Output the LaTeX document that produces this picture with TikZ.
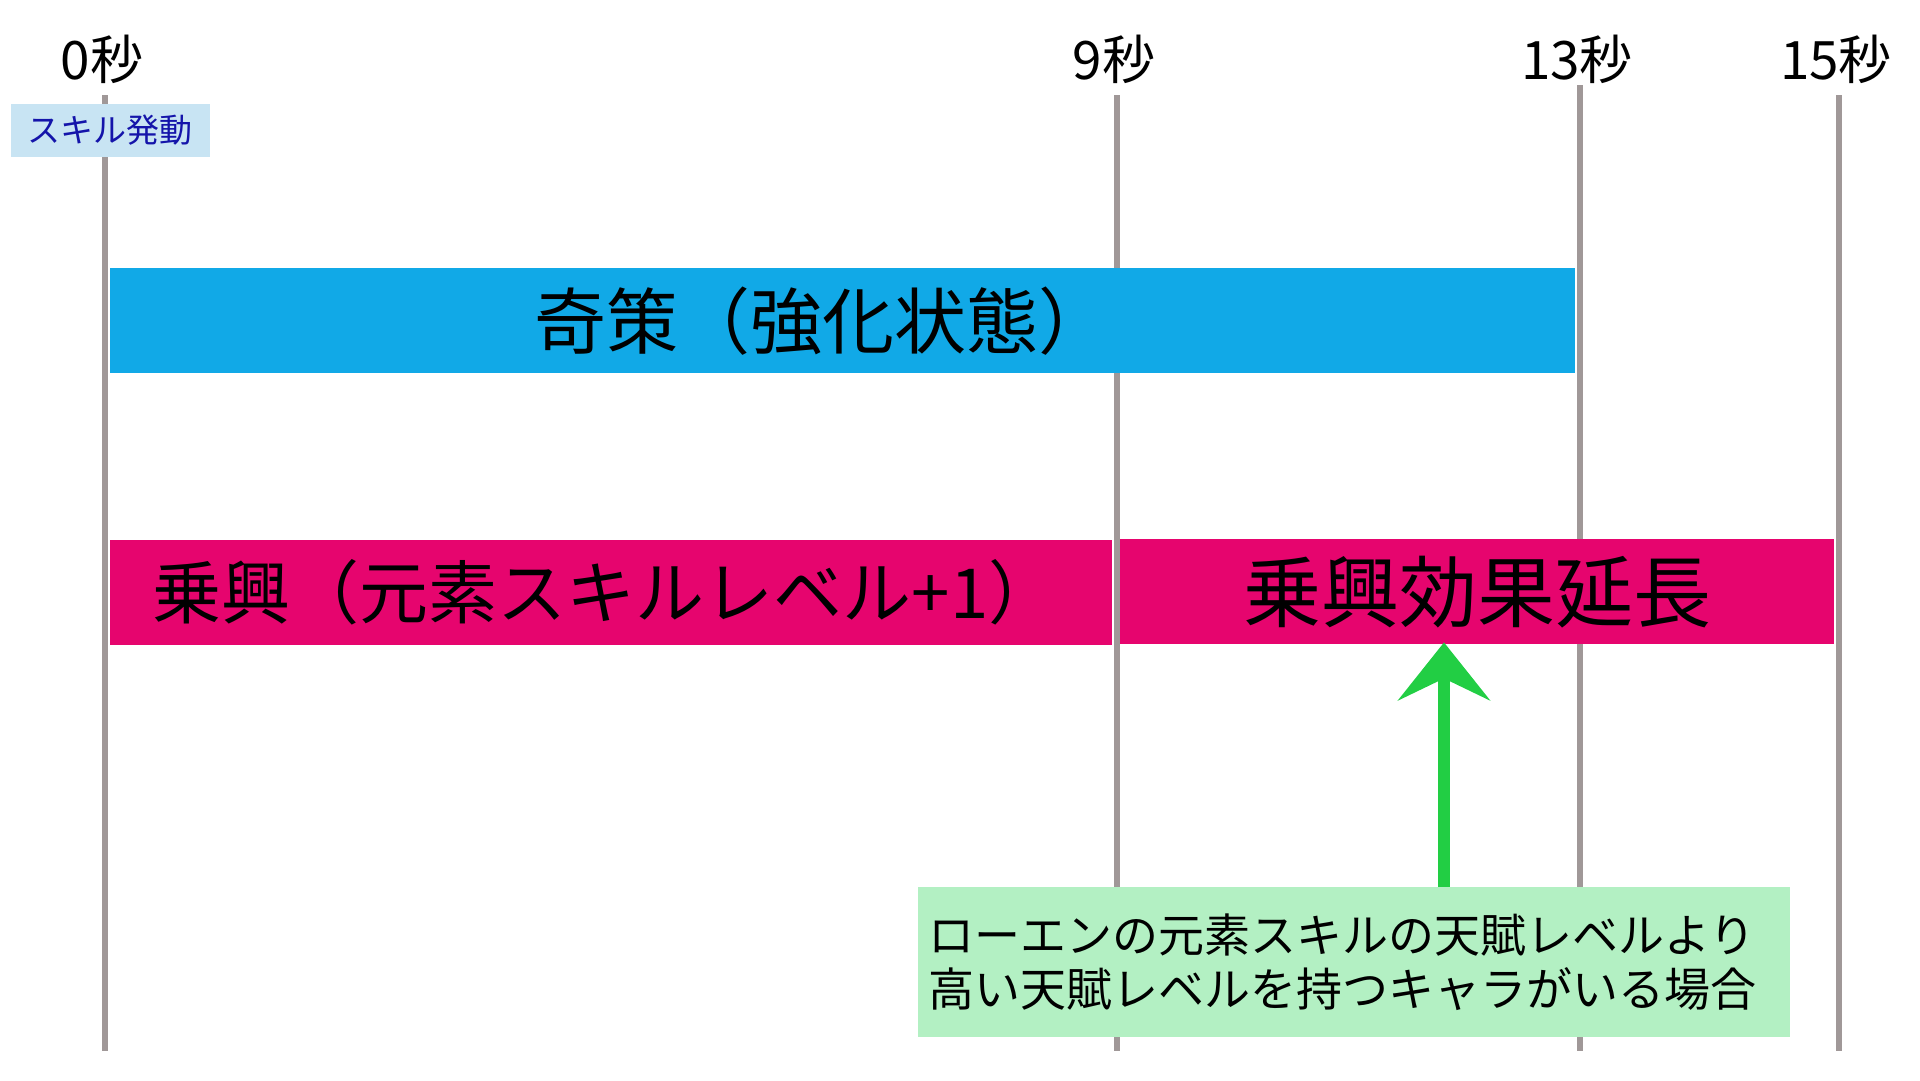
\documentclass[tikz,border=0pt]{standalone}
\usepackage{fontspec}
\setmainfont{Noto Sans CJK JP}
\usepackage{tikz}
\usetikzlibrary{positioning, calc, arrows.meta}
\definecolor{skyblue}{RGB}{17,169,231}
\definecolor{hotpink}{RGB}{230,5,110}
\definecolor{mint}{RGB}{179,240,195}
\definecolor{leaf}{RGB}{34,206,68}
\definecolor{pale}{RGB}{200,228,243}
\definecolor{ink}{RGB}{20,20,170}
\definecolor{stone}{RGB}{160,152,152}

\begin{document}
\begin{tikzpicture}[x=1pt, y=-1pt,
  bar/.style={minimum height=105pt, inner sep=0pt, anchor=north west, font=\fontsize{72}{86}\selectfont},
  tick/.style={stone, line width=6pt}]
  \useasboundingbox (0,0) rectangle (1920,1080);
  % time axis
  \foreach \tm/\x/\y in {0/105/95, 9/1117/95, 13/1580/85, 15/1839/95}{
    \coordinate (top\tm) at (\x,\y);
    \coordinate (bot\tm) at (\x,1051);
    \draw[tick] (top\tm) -- (bot\tm);
    \node[font=\fontsize{53}{60}\selectfont] (lab\tm) at (\x-3,59) {\tm 秒};
  }
  \node[fill=pale, text=ink, minimum width=199pt, minimum height=53pt, inner sep=0pt,
        font=\fontsize{33}{40}\selectfont] (start) at (110,130) {スキル発動};
  % buffs
  \node[bar, fill=skyblue, minimum width=1465pt] (kisaku) at (110,268) {奇策（強化状態）\hspace*{40pt}};
  \node[bar, fill=hotpink, minimum width=1002pt, font=\fontsize{69}{84}\selectfont] (jokyo) at (110,540) {乗興（元素スキルレベル+1）\hspace*{12pt}};
  \node[bar, fill=hotpink, minimum width=714pt, font=\fontsize{78}{86}\selectfont] (ext) at (1120,539) {乗興効果延長};
  % condition
  \node[fill=mint, anchor=north west, minimum width=872pt, minimum height=150pt,
        inner xsep=10pt, inner ysep=0pt, align=left, text width=852pt,
        font=\fontsize{46}{54}\selectfont] (cond) at (918,887)
        {ローエンの元素スキルの天賦レベルより\\高い天賦レベルを持つキャラがいる場合};
  \coordinate (foot) at (1444,887);
  \draw[leaf, line width=12pt, -{Stealth[length=58pt, width=92pt, inset=22pt]}, shorten >=-2pt]
    (foot) -- (foot |- ext.south);
\end{tikzpicture}
\end{document}
